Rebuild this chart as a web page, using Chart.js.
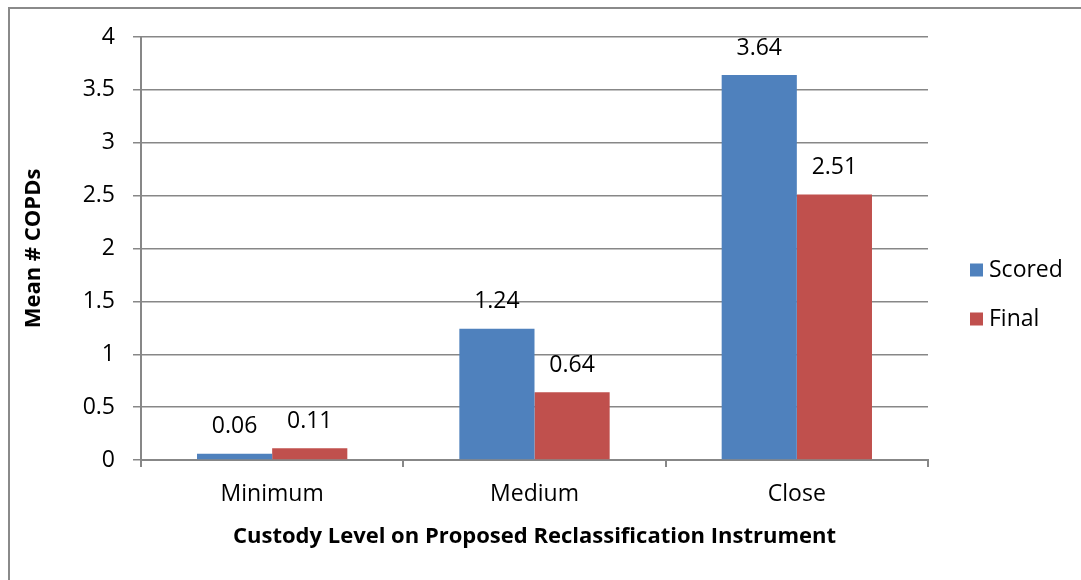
<!DOCTYPE html>
<html>
<head>
<meta charset="utf-8">
<script src="https://cdn.jsdelivr.net/npm/chart.js@4"></script>
<style>
  html, body { margin: 0; padding: 0; background: #fff; overflow: hidden; }
  #frame { position: absolute; left: 8px; top: 7px; width: 1200px; height: 700px; border: 2px solid #8a8a8a; box-sizing: border-box; }
  #wrap { position: absolute; left: 0; top: 0; width: 1081px; height: 580px; }
</style>
</head>
<body>
<div id="frame"></div>
<div id="wrap"><canvas id="c" width="1081" height="580"></canvas></div>
<script>
const categories = ['Minimum', 'Medium', 'Close'];
const scoredValues = [0.06, 1.24, 3.64];
const finalValues = [0.11, 0.64, 2.51];
const seriesNames = ['Scored', 'Final'];
const yTicks = [0, 0.5, 1, 1.5, 2, 2.5, 3, 3.5, 4];

const FONT = '"Open Sans", Lato, sans-serif';
const FS = 23;
const GRID = '#878787';

const dataLabels = {
  id: 'dataLabels',
  afterDatasetsDraw(chart) {
    const ctx = chart.ctx;
    ctx.save();
    ctx.font = FS + 'px ' + FONT;
    ctx.fillStyle = '#000';
    ctx.textAlign = 'center';
    ctx.textBaseline = 'middle';
    chart.data.datasets.forEach((ds, i) => {
      const meta = chart.getDatasetMeta(i);
      meta.data.forEach((bar, j) => {
        ctx.fillText(ds.data[j].toFixed(2), bar.x, bar.y - 27);
      });
    });
    ctx.restore();
  }
};

const sideLegend = {
  id: 'sideLegend',
  afterDraw(chart) {
    const ctx = chart.ctx;
    const a = chart.chartArea;
    ctx.save();
    ctx.font = FS + 'px ' + FONT;
    ctx.textAlign = 'left';
    ctx.textBaseline = 'middle';
    const x0 = a.right + 42;
    const yc = (a.top + a.bottom) / 2 + 46;
    const gap = 49;
    chart.data.datasets.forEach((ds, i) => {
      const y = yc - gap / 2 + i * gap;
      ctx.fillStyle = ds.backgroundColor;
      ctx.fillRect(x0, y - 6.5, 13, 13);
      ctx.fillStyle = '#000';
      ctx.fillText(ds.label, x0 + 19, y);
    });
    ctx.restore();
  }
};

new Chart(document.getElementById('c'), {
  type: 'bar',
  data: {
    labels: categories,
    datasets: [
      { label: seriesNames[0], data: scoredValues, backgroundColor: '#4F81BD' },
      { label: seriesNames[1], data: finalValues, backgroundColor: '#C0504D' }
    ]
  },
  options: {
    responsive: false,
    animation: false,
    events: [],
    layout: { padding: { left: 20, top: 37, right: 153, bottom: 30 } },
    datasets: { bar: { categoryPercentage: 0.573, barPercentage: 1.0 } },
    plugins: { legend: { display: false }, tooltip: { enabled: false } },
    scales: {
      x: {
        grid: { drawOnChartArea: false, drawTicks: true, tickLength: 7, color: GRID, lineWidth: 2, offset: true },
        border: { display: true, color: GRID, width: 2 },
        ticks: { color: '#000', font: { family: FONT, size: FS }, padding: 14 },
        title: { display: true, text: 'Custody Level on Proposed Reclassification Instrument', color: '#000', font: { family: FONT, size: 22, weight: 'bold' }, padding: { top: 1, bottom: 0 } },
        afterFit(scale) { scale.height = 580 - 460 - 30; }
      },
      y: {
        min: 0, max: 4,
        afterBuildTicks(scale) { scale.ticks = yTicks.map(v => ({ value: v })); },
        grid: { color: GRID, lineWidth: 1.5, tickLength: 8, drawTicks: true },
        border: { display: true, color: GRID, width: 2 },
        ticks: { color: '#000', font: { family: FONT, size: FS }, padding: 18, callback: v => String(v) },
        title: { display: true, text: 'Mean # COPDs', color: '#000', font: { family: FONT, size: 22, weight: 'bold' }, padding: 1 },
        afterFit(scale) { scale.width = 141 - 20; }
      }
    }
  },
  plugins: [dataLabels, sideLegend]
});
</script>
</body>
</html>
